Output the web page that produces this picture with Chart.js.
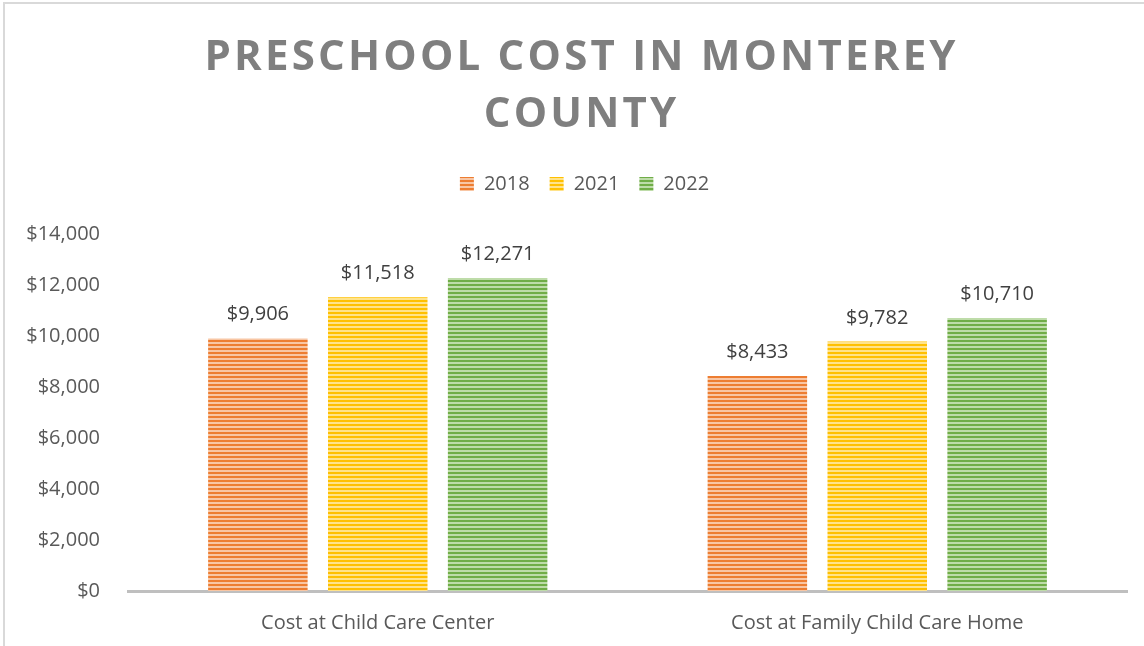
<!DOCTYPE html>
<html>
<head>
<meta charset="utf-8">
<script src="https://cdn.jsdelivr.net/npm/chart.js@4/dist/chart.umd.min.js"></script>
<style>
  html, body { margin: 0; padding: 0; overflow: hidden; background: #fff; }
  #frame { position: absolute; left: 3px; top: 2px; width: 1160px; height: 665px;
           border-left: 2px solid #d9d9d9; border-top: 2px solid #d9d9d9; }
  #wrap { position: absolute; left: -5px; top: -4px; width: 1170px; height: 663px; }
</style>
</head>
<body>
<div id="frame"><div id="wrap"><canvas id="costChart"></canvas></div></div>
<script>
var categories = ['Cost at Child Care Center', 'Cost at Family Child Care Home'];
var years = ['2018', '2021', '2022'];
var cost2018 = [9906, 8433];
var cost2021 = [11518, 9782];
var cost2022 = [12271, 10710];
var yTicks = [0, 2000, 4000, 6000, 8000, 10000, 12000, 14000];
var titleLines = ['PRESCHOOL COST IN MONTEREY', 'COUNTY'];

// horizontal stripes like the excel fill
function stripes(color, light) {
  var c = document.createElement('canvas');
  c.width = 4; c.height = 4;
  var g = c.getContext('2d');
  g.fillStyle = light;
  g.fillRect(0, 0, 4, 4);
  g.fillStyle = color;
  g.fillRect(0, 0, 4, 2);
  return g.createPattern(c, 'repeat');
}

function money(v) {
  return '$' + v.toLocaleString('en-US');
}

var titlePlugin = {
  id: 'spacedTitle',
  afterDraw: function(chart) {
    var ctx = chart.ctx;
    ctx.save();
    ctx.font = 'bold 42px "Open Sans"';
    ctx.fillStyle = '#7f7f7f';
    ctx.textBaseline = 'alphabetic';
    var spacing = 3.2;
    var cx = 580;
    var baselines = [70, 127];
    titleLines.forEach(function(line, li) {
      var total = 0;
      for (var i = 0; i < line.length; i++) total += ctx.measureText(line[i]).width + (i < line.length - 1 ? spacing : 0);
      var x = cx - total / 2;
      for (var j = 0; j < line.length; j++) {
        ctx.fillText(line[j], x, baselines[li]);
        x += ctx.measureText(line[j]).width + spacing;
      }
    });
    ctx.restore();
  }
};

var labelPlugin = {
  id: 'barLabels',
  afterDatasetsDraw: function(chart) {
    var ctx = chart.ctx;
    ctx.save();
    ctx.font = '20px "Open Sans"';
    ctx.fillStyle = '#404040';
    ctx.textAlign = 'center';
    ctx.textBaseline = 'alphabetic';
    chart.data.datasets.forEach(function(ds, di) {
      chart.getDatasetMeta(di).data.forEach(function(bar, i) {
        ctx.fillText(money(ds.data[i]), bar.x, bar.y - 18);
      });
    });
    ctx.restore();
  }
};

// extra room under the legend, and nudge it right to sit under the title
var legendTweak = {
  id: 'legendTweak',
  beforeInit: function(chart) {
    var lg = chart.legend;
    var fit = lg.fit;
    lg.fit = function() {
      fit.bind(lg)();
      this.height += 30;
    };
    var draw = lg.draw;
    lg.draw = function() {
      chart.ctx.save();
      chart.ctx.translate(11, 0);
      draw.apply(lg, arguments);
      chart.ctx.restore();
    };
  }
};

var ctx = document.getElementById('costChart');

var barGraph = new Chart(ctx, {
  type: 'bar',
  data: {
    labels: categories,
    datasets: [
      { label: years[0], data: cost2018, backgroundColor: stripes('#ED7D31', '#F8C6A4') },
      { label: years[1], data: cost2021, backgroundColor: stripes('#FFC000', '#FFE38A') },
      { label: years[2], data: cost2022, backgroundColor: stripes('#70AD47', '#BEDCA9') }
    ]
  },
  plugins: [legendTweak, titlePlugin, labelPlugin],
  options: {
    responsive: true,
    maintainAspectRatio: false,
    animation: false,
    layout: { padding: { top: 154, left: 20, right: 43, bottom: 8 } },
    datasets: { bar: { categoryPercentage: 0.72, barPercentage: 0.83 } },
    plugins: {
      legend: {
        position: 'top',
        labels: {
          font: { family: 'Open Sans', size: 20 },
          color: '#595959',
          boxWidth: 14,
          boxHeight: 14,
          padding: 20
        }
      },
      title: { display: false },
      tooltip: { enabled: false }
    },
    scales: {
      x: {
        grid: { display: false, drawTicks: false },
        border: { display: true, color: '#bfbfbf', width: 3 },
        ticks: { font: { family: 'Open Sans', size: 20 }, color: '#595959', padding: 20 }
      },
      y: {
        min: 0,
        max: yTicks[yTicks.length - 1],
        afterBuildTicks: function(axis) {
          axis.ticks = yTicks.map(function(v) { return { value: v }; });
        },
        afterFit: function(axis) {
          axis.width = 108;
        },
        grid: { display: false, drawTicks: false },
        border: { display: false },
        ticks: {
          font: { family: 'Open Sans', size: 20 },
          color: '#595959',
          padding: 28,
          callback: function(v) { return money(v); }
        }
      }
    }
  }
});
</script>
</body>
</html>
